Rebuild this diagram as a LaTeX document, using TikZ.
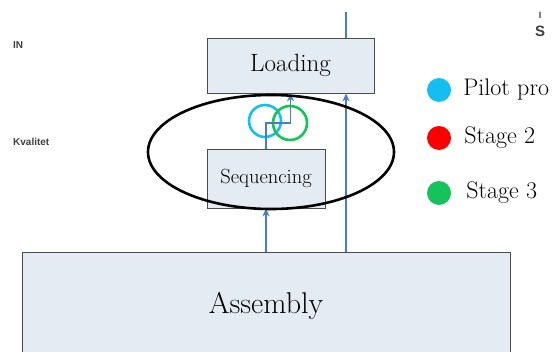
\documentclass[tikz,border=0pt]{standalone}
\usepackage{fontspec}
\newfontfamily\labelfont{Liberation Sans}
\usetikzlibrary{positioning, calc, arrows.meta}
\definecolor{boxfill}{RGB}{229,235,243}
\definecolor{flowblue}{RGB}{74,126,187}
\definecolor{pilotcyan}{RGB}{20,190,240}
\definecolor{stagered}{RGB}{250,0,0}
\definecolor{stagegreen}{RGB}{20,195,90}

\begin{document}
\begin{tikzpicture}[x=1pt,y=1pt,>={Stealth[length=8pt,width=7pt]},
    stagebox/.style={draw=black!70,thick,fill=boxfill,inner sep=0pt},
    flow/.style={draw=flowblue,line width=1.6pt},
    dot/.style={circle,fill,inner sep=0pt,minimum size=24pt},
    legendtext/.style={font=\fontsize{24}{26}\selectfont,inner sep=0pt},
    sidelabel/.style={font=\labelfont\bfseries\fontsize{10}{11}\selectfont,text=black!75,inner sep=0pt}]
    \useasboundingbox (0,0) rectangle (553,351);

    \node [stagebox,minimum width=167pt,minimum height=55pt,font=\fontsize{25}{27}\selectfont] (loading) at (290.5,285.5) {Loading};
    \node [stagebox,minimum width=118pt,minimum height=59pt,font=\fontsize{20.5}{22}\selectfont] (sequencing) at (266,172.5) {Sequencing};
    \node [stagebox,minimum width=488pt,minimum height=108pt,font=\fontsize{30}{32}\selectfont] (assembly) at (266,45) {Assembly};

    % pilot / stage 3 rings
    \draw [pilotcyan,line width=2.6pt] (265,230) circle (16);
    \draw [stagegreen,line width=2.6pt] (290,228) circle (17);

    \coordinate (topend) at (346,339);
    \coordinate (bend) at (266,228);
    \draw [flow,->] (assembly.north -| sequencing) -- (sequencing.south);
    \draw [flow,->] (sequencing.north) -- (bend) -| (loading.south);
    \draw [flow,->] (assembly.north -| topend) -- (loading.south -| topend);
    \draw [flow] (loading.north -| topend) -- (topend);

    \draw [line width=2.6pt] (271,199) ellipse (123 and 57);

    % legend
    \node [dot,fill=pilotcyan] (pilotdot) at (439,261) {};
    \node [dot,fill=stagered] (stagetwodot) at (439,213) {};
    \node [dot,fill=stagegreen] (stagethreedot) at (439,158) {};
    \node [legendtext,anchor=west,right=12pt of pilotdot] (pilot) {Pilot pro};
    \node [legendtext,anchor=west,right=13pt of stagetwodot] (stagetwo) {Stage 2};
    \node [legendtext,anchor=west,right=15pt of stagethreedot] (stagethree) {Stage 3};

    \node [sidelabel,anchor=west] (in) at (13,306) {IN};
    \node [sidelabel,anchor=west] (kvalitet) at (13,209) {Kvalitet};
    \node [sidelabel,font=\labelfont\bfseries\fontsize{15}{15}\selectfont] (sletter) at (540,320) {S};
    \node [sidelabel,font=\labelfont\bfseries\fontsize{9}{9}\selectfont] (iletter) at (540,336) {I};
\end{tikzpicture}
\end{document}
